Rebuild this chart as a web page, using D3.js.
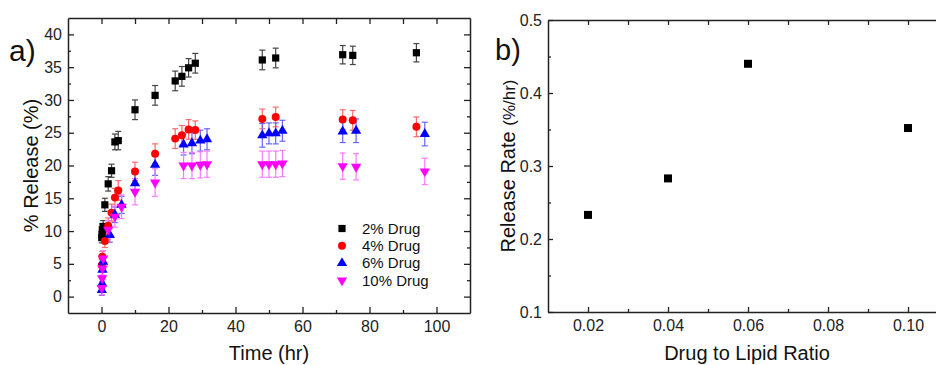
<!DOCTYPE html>
<html>
  <head>
    <meta charset="utf-8">
    <title>Drug release</title>
    <script src="https://d3js.org/d3.v7.min.js"></script>
    <style>
      body { margin: 0; background: #fff; }
      svg { display: block; font-family: Arial, "Liberation Sans", sans-serif; }
      .domain { stroke: #222; stroke-width: 1.5; }
      .tick line { stroke: #222; stroke-width: 1.3; }
      .tick text { fill: #222; font-size: 16px; }
      .title { fill: #111; font-size: 20px; }
    </style>
  </head>
  <body>
    <svg id="chart" width="936" height="365"></svg>
    <script>
      // ---- data ----
      var seriesNames = ["2% Drug", "4% Drug", "6% Drug", "10% Drug"];
      var seriesColours = ["#000000", "#ff0000", "#0000ff", "#ff00ff"];
      var errorColours = ["#444444", "#ff6a6a", "#6464ff", "#ff7aff"];
      var seriesShapes = ["square", "circle", "up", "down"];

      var time2 = [0.08, 0.17, 0.25, 0.5, 1, 2, 3, 4, 5, 10, 16, 22, 24, 26, 28, 48, 52, 72, 75, 94];
      var release2 = [9.0, 9.5, 10.2, 10.7, 14.0, 17.2, 19.2, 23.6, 23.8, 28.5, 30.7, 32.9, 33.6, 34.9, 35.6, 36.1, 36.4, 36.9, 36.8, 37.2];
      var error2 = [0.8, 0.8, 0.9, 0.9, 1.0, 1.1, 1.0, 1.2, 1.4, 1.5, 1.5, 1.5, 1.5, 1.4, 1.5, 1.5, 1.5, 1.4, 1.4, 1.4];

      var time4 = [0.1, 0.25, 1, 2, 3, 4, 5, 10, 16, 22, 24, 26, 28, 48, 52, 72, 75, 94];
      var release4 = [4.8, 6.1, 8.5, 10.8, 12.8, 15.1, 16.2, 19.1, 21.8, 24.1, 24.6, 25.5, 25.4, 27.1, 27.4, 27.0, 26.9, 25.9];
      var error4 = [0.8, 0.8, 1.0, 1.2, 1.3, 1.4, 1.5, 1.4, 1.5, 1.5, 1.5, 1.5, 1.4, 1.5, 1.5, 1.5, 1.5, 1.5];

      var time6 = [0.1, 0.2, 0.3, 0.5, 2.5, 4, 6, 10, 16, 24.5, 27, 29.5, 31.5, 48, 50, 52, 54, 72, 76, 96.5];
      var release6 = [1.0, 2.0, 4.1, 5.3, 9.4, 12.5, 14.0, 17.3, 20.1, 23.2, 23.4, 23.8, 24.0, 24.6, 24.9, 24.9, 25.3, 25.2, 25.3, 24.8];
      var error6 = [0.8, 0.8, 0.9, 1.0, 1.1, 1.2, 1.3, 1.4, 1.6, 1.6, 1.6, 1.6, 1.6, 1.8, 1.6, 1.6, 1.6, 1.7, 1.8, 1.8];

      var time10 = [0.1, 0.2, 0.3, 0.5, 2, 4, 6, 10, 16, 24.5, 27, 29.5, 31.5, 48, 50, 52, 54, 72, 76, 96.5];
      var release10 = [1.3, 2.8, 4.3, 5.8, 10.2, 12.2, 13.7, 16.0, 17.4, 20.0, 20.0, 20.1, 20.2, 20.2, 20.2, 20.2, 20.3, 19.9, 19.8, 19.1];
      var error10 = [1.0, 1.0, 1.0, 1.2, 1.4, 1.6, 1.8, 2.0, 2.1, 2.0, 2.0, 2.0, 2.0, 2.0, 2.0, 2.0, 2.0, 2.0, 2.0, 2.0];

      var ratios = [0.02, 0.04, 0.06, 0.10];
      var rates = [0.233, 0.283, 0.440, 0.352];

      var timeTicks = [0, 20, 40, 60, 80, 100];
      var timeMinor = [10, 30, 50, 70, 90];
      var releaseTicks = [0, 5, 10, 15, 20, 25, 30, 35, 40];
      var releaseMinor = [2.5, 7.5, 12.5, 17.5, 22.5, 27.5, 32.5, 37.5];
      var ratioTicks = [0.02, 0.04, 0.06, 0.08, 0.10];
      var ratioMinor = [0.03, 0.05, 0.07, 0.09];
      var rateTicks = [0.1, 0.2, 0.3, 0.4, 0.5];
      var rateMinor = [0.15, 0.25, 0.35, 0.45];

      var series = [
        { t: time2, v: release2, e: error2 },
        { t: time4, v: release4, e: error4 },
        { t: time6, v: release6, e: error6 },
        { t: time10, v: release10, e: error10 }
      ].map(function(s, i) {
        return s.t.map(function(t, j) {
          return { t: t, v: s.v[j], e: s.e[j], i: i };
        });
      });

      var svg = d3.select("#chart");

      function symbolPath(shape) {
        if (shape == "square") return d3.symbol().type(d3.symbolSquare).size(52)();
        if (shape == "circle") return d3.symbol().type(d3.symbolCircle).size(50)();
        return d3.symbol().type(d3.symbolTriangle).size(46)();
      }
      function symbolTransform(shape, x, y) {
        return "translate(" + x + "," + y + ")" + (shape == "down" ? " rotate(180)" : "");
      }

      // draws a boxed frame with inward ticks on all four sides
      function frame(g, x, y, xt, xm, yt, ym, xfmt, yfmt, major, minor) {
        var r = x.range(), b = y.range();
        g.append("g").attr("transform", "translate(0," + b[0] + ")")
          .call(d3.axisBottom(x).tickValues(xt).tickFormat(xfmt).tickSize(-major).tickSizeOuter(0).tickPadding(8));
        g.append("g").attr("transform", "translate(0," + b[0] + ")")
          .call(d3.axisBottom(x).tickValues(xm).tickFormat("").tickSize(-minor).tickSizeOuter(0))
          .select(".domain").remove();
        g.append("g").attr("transform", "translate(0," + b[1] + ")")
          .call(d3.axisTop(x).tickValues(xt.concat(xm)).tickFormat("").tickSize(-major).tickSizeOuter(0));
        g.append("g").attr("transform", "translate(" + r[0] + ",0)")
          .call(d3.axisLeft(y).tickValues(yt).tickFormat(yfmt).tickSize(-major).tickSizeOuter(0).tickPadding(6));
        g.append("g").attr("transform", "translate(" + r[0] + ",0)")
          .call(d3.axisLeft(y).tickValues(ym).tickFormat("").tickSize(-minor).tickSizeOuter(0))
          .select(".domain").remove();
        g.append("g").attr("transform", "translate(" + r[1] + ",0)")
          .call(d3.axisRight(y).tickValues(yt).tickFormat("").tickSize(-major).tickSizeOuter(0));
        g.append("g").attr("transform", "translate(" + r[1] + ",0)")
          .call(d3.axisRight(y).tickValues(ym).tickFormat("").tickSize(-minor).tickSizeOuter(0))
          .select(".domain").remove();
      }

      // ---- panel a ----
      var xa = d3.scaleLinear().domain([-10, 110]).range([68, 470]);
      var ya = d3.scaleLinear().domain([-2.5, 42.5]).range([313, 18]);
      var ga = svg.append("g");
      frame(ga, xa, ya, timeTicks, timeMinor, releaseTicks, releaseMinor, d3.format("d"), d3.format("d"), 6, 3);

      series.forEach(function(pts, i) {
        var s = ga.append("g");
        var eb = s.selectAll(".err").data(pts).enter().append("g")
          .attr("stroke", errorColours[i]).attr("stroke-width", 1.2);
        eb.append("line")
          .attr("x1", function(d) { return xa(d.t); }).attr("x2", function(d) { return xa(d.t); })
          .attr("y1", function(d) { return ya(d.v - d.e); }).attr("y2", function(d) { return ya(d.v + d.e); });
        eb.append("line")
          .attr("x1", function(d) { return xa(d.t) - 3; }).attr("x2", function(d) { return xa(d.t) + 3; })
          .attr("y1", function(d) { return ya(d.v + d.e); }).attr("y2", function(d) { return ya(d.v + d.e); });
        eb.append("line")
          .attr("x1", function(d) { return xa(d.t) - 3; }).attr("x2", function(d) { return xa(d.t) + 3; })
          .attr("y1", function(d) { return ya(d.v - d.e); }).attr("y2", function(d) { return ya(d.v - d.e); });
      });
      series.forEach(function(pts, i) {
        ga.selectAll(".pt" + i).data(pts).enter().append("path")
          .attr("d", symbolPath(seriesShapes[i]))
          .attr("transform", function(d) { return symbolTransform(seriesShapes[i], xa(d.t), ya(d.v)); })
          .attr("fill", seriesColours[i]);
      });

      // legend
      var legend = ga.append("g").selectAll("g").data(seriesNames).enter().append("g")
        .attr("transform", function(d, i) { return "translate(342," + (228.5 + i * 17.3) + ")"; });
      legend.append("path")
        .attr("d", function(d, i) { return symbolPath(seriesShapes[i]); })
        .attr("transform", function(d, i) { return seriesShapes[i] == "down" ? "rotate(180)" : null; })
        .attr("fill", function(d, i) { return seriesColours[i]; });
      legend.append("text")
        .attr("x", 20).attr("dy", "0.35em")
        .style("font-size", "15px").style("fill", "#111")
        .text(function(d) { return d; });

      ga.append("text").attr("class", "title")
        .attr("text-anchor", "middle")
        .attr("transform", "translate(38," + ((18 + 313) / 2) + ") rotate(-90)")
        .text("% Release (%)");
      ga.append("text").attr("class", "title")
        .attr("text-anchor", "middle").attr("x", (68 + 470) / 2).attr("y", 360)
        .text("Time (hr)");
      ga.append("text").attr("x", 9).attr("y", 61)
        .style("font-size", "30px").style("fill", "#111").text("a)");

      // ---- panel b ----
      var xb = d3.scaleLinear().domain([0.01, 0.11]).range([548, 948]);
      var yb = d3.scaleLinear().domain([0.1, 0.5]).range([312, 20]);
      var gb = svg.append("g");
      frame(gb, xb, yb, ratioTicks, ratioMinor, rateTicks, rateMinor, d3.format(".2f"), d3.format(".1f"), 5, 3);

      gb.selectAll(".rate").data(ratios).enter().append("path")
        .attr("d", d3.symbol().type(d3.symbolSquare).size(64)())
        .attr("transform", function(d, i) { return "translate(" + xb(d) + "," + yb(rates[i]) + ")"; })
        .attr("fill", "#000");

      var yTitle = gb.append("text").attr("class", "title")
        .attr("text-anchor", "middle")
        .attr("transform", "translate(515," + ((20 + 312) / 2) + ") rotate(-90)");
      yTitle.append("tspan").text("Release Rate ");
      yTitle.append("tspan").style("font-size", "17px").text("(%/hr)");
      gb.append("text").attr("class", "title")
        .attr("text-anchor", "middle").attr("x", 747).attr("y", 360)
        .text("Drug to Lipid Ratio");
      gb.append("text").attr("x", 495).attr("y", 60)
        .style("font-size", "29px").style("fill", "#111").text("b)");
    </script>
  </body>
</html>
